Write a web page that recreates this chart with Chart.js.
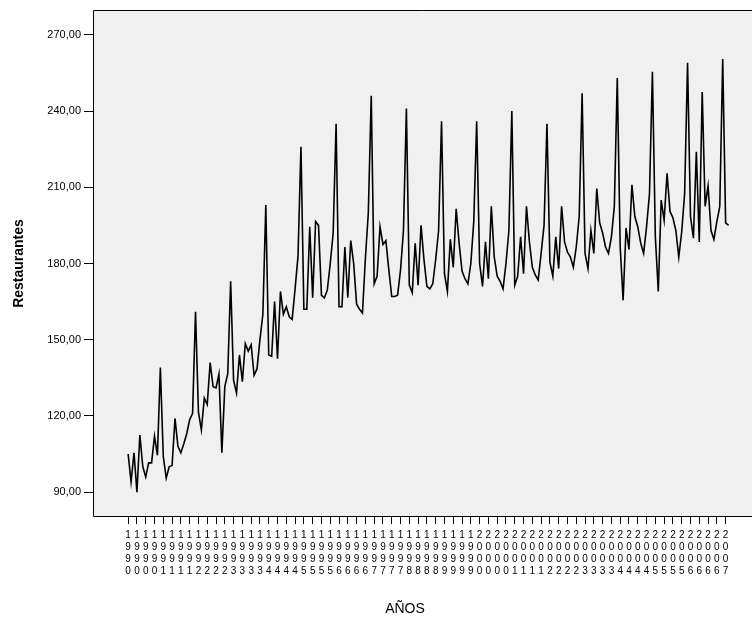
<!DOCTYPE html>
<html><head><meta charset="utf-8">
<script src="https://cdn.jsdelivr.net/npm/chart.js@4.4.0/dist/chart.umd.min.js"></script>
<style>html,body{margin:0;padding:0;background:#fff;}#wrap{width:752px;height:621px;}</style>
</head><body><div id="wrap"><canvas id="c" width="752" height="621"></canvas></div>
<script>
// Monthly series: Jan 1990 .. Feb 2007
const categoryYears = ['1990','1991','1992','1993','1994','1995','1996','1997','1998','1999','2000','2001','2002','2003','2004','2005','2006','2007'];
const monthsInYear = [12,12,12,12,12,12,12,12,12,12,12,12,12,12,12,12,12,2];
const values = [
  105, 94, 105.5, 90, 112.5, 100, 96, 101.5, 101.5, 112, 104.5, 139,
  104, 95.5, 100, 100.5, 119, 108, 105.5, 109, 113, 118.5, 121, 161,
  121.5, 114.5, 127, 124.5, 141, 131.5, 131, 136.5, 105.5, 131.5, 136.5, 173,
  134, 129, 144, 133.5, 148.5, 145.5, 148, 136, 138.5, 150, 160, 203,
  144, 143.5, 165, 142.5, 169, 160, 163, 159, 158, 170, 183, 226,
  162, 162, 194.5, 166.5, 196.5, 195, 167.5, 166.5, 169.5, 180, 192, 235,
  163, 163, 186.5, 166.5, 189, 180, 164, 162, 160.5, 182, 200, 246,
  172, 175, 194.5, 187.5, 189, 177.5, 167, 167, 167.5, 177.5, 193, 241,
  171.5, 168.5, 188, 171.5, 195, 181.5, 171, 170, 172, 181.5, 193, 236,
  176, 169, 189.5, 178.5, 201.5, 188, 177, 174, 172, 180, 196.5, 236,
  180, 171, 188.5, 174, 202.5, 182.5, 175, 173, 170, 180, 193, 240,
  171.5, 175, 190.5, 176, 202.5, 188.5, 178.5, 175.5, 173.5, 184, 195, 235,
  180.5, 175, 190.5, 178, 202.5, 188.5, 184.5, 182.5, 178.5, 186.5, 198.5, 247,
  184, 178, 193, 184, 209.5, 196, 192, 186.5, 184, 190.5, 202.5, 253,
  186.5, 165.5, 194, 185.5, 211, 198.5, 194.5, 188, 184, 194.5, 207.5, 255.5,
  190.5, 169, 205, 197, 215.5, 200.5, 198, 193, 182.5, 192.5, 207.5, 259,
  198.5, 190, 224, 188.5, 247.5, 202.5, 210.5, 193, 189.5, 196.5, 202.5, 260.5,
  196, 195
];
const yTicks = [90, 120, 150, 180, 210, 240, 270];
const xTickEvery = 3;
const xTitle = 'AÑOS';
const yTitle = 'Restaurantes';

const periods = [];
categoryYears.forEach((y, k) => { for (let m = 0; m < monthsInYear[k]; m++) periods.push(y); });

const FONT = "'Liberation Sans', Arial, sans-serif";

const framePlugin = {
  id: 'frame',
  beforeDraw(chart) {
    const {ctx, chartArea: a} = chart;
    ctx.save();
    ctx.fillStyle = '#f0f0f0';
    ctx.fillRect(a.left, a.top, a.right - a.left, a.bottom - a.top);
    ctx.restore();
  },
  afterDraw(chart) {
    const {ctx, chartArea: a} = chart;
    ctx.save();
    ctx.strokeStyle = '#000';
    ctx.lineWidth = 1;
    ctx.beginPath();
    ctx.moveTo(a.right, a.top + 0.5);
    ctx.lineTo(a.left + 0.5, a.top + 0.5);
    ctx.lineTo(a.left + 0.5, a.bottom - 0.5);
    ctx.lineTo(a.right, a.bottom - 0.5);
    ctx.stroke();
    // x axis title (SPSS places it slightly left of the plot centre)
    ctx.fillStyle = '#000';
    ctx.font = "14px " + FONT;
    ctx.textAlign = 'center';
    ctx.textBaseline = 'middle';
    ctx.fillText(xTitle, 405, 609);
    ctx.restore();
  }
};

new Chart(document.getElementById('c'), {
  type: 'line',
  data: {
    datasets: [{
      data: values.map((v, i) => ({x: i, y: v})),
      borderColor: '#000',
      borderWidth: 1.6,
      pointRadius: 0,
      tension: 0,
      fill: false
    }]
  },
  options: {
    responsive: false,
    animation: false,
    devicePixelRatio: 1,
    layout: {padding: {top: 10, left: 0, right: 0, bottom: 0}},
    plugins: {legend: {display: false}, tooltip: {enabled: false}},
    scales: {
      x: {
        type: 'linear',
        min: -12,
        max: 213,
        afterBuildTicks(scale) {
          const t = [];
          for (let i = 0; i < values.length; i += xTickEvery) t.push({value: i});
          scale.ticks = t;
        },
        afterFit(scale) { scale.height = 104; },
        ticks: {
          autoSkip: false, maxRotation: 0, minRotation: 0,
          padding: 5,
          color: '#000',
          font: {family: FONT, size: 10, lineHeight: 1.2},
          callback: (v) => (periods[v] || '').split('')
        },
        grid: {display: true, drawOnChartArea: false, drawTicks: true, tickLength: 7, color: '#000', lineWidth: 1},
        border: {display: false},
        title: {display: false, text: xTitle}
      },
      y: {
        type: 'linear',
        min: 80.2,
        max: 279.8,
        afterBuildTicks(scale) { scale.ticks = yTicks.map(v => ({value: v})); },
        afterFit(scale) { scale.width = 93; },
        ticks: {
          padding: 3,
          color: '#000',
          font: {family: FONT, size: 11},
          callback: (v) => v.toFixed(2).replace('.', ',')
        },
        grid: {display: true, drawOnChartArea: false, drawTicks: true, tickLength: 9, color: '#000', lineWidth: 1},
        border: {display: false},
        title: {display: true, text: yTitle, color: '#000', font: {family: FONT, size: 14, weight: 'bold'}, padding: {top: 11, bottom: 0}}
      }
    }
  },
  plugins: [framePlugin]
});
</script>
</body></html>
